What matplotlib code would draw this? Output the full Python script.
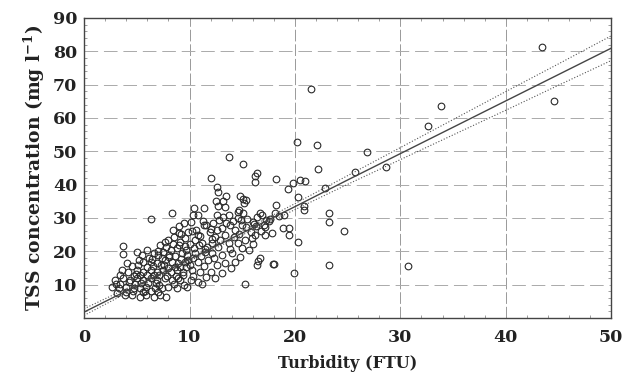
import matplotlib
matplotlib.use("Agg")
import matplotlib.pyplot as plt
from matplotlib.ticker import MultipleLocator

# turbidity (FTU) / TSS (mg l-1) pairs
turbidity = [
    43.4, 44.6, 33.9, 32.6, 21.5, 20.2, 22.1, 26.8, 28.6, 25.7, 22.2, 20.5, 21.0, 22.9,
    19.8, 19.3, 20.3, 18.2, 18.2, 20.9, 20.9, 23.2, 23.2, 24.7, 18.9, 19.4, 19.4, 20.3,
    17.6, 18.0, 19.9, 23.2, 30.7, 15.3, 11.2, 3.7, 3.7, 6.3, 8.3, 13.7, 15.1, 16.4,
    16.2, 16.2, 12.0, 12.6, 12.7, 13.5, 12.5, 13.2, 14.8, 15.1, 15.4, 15.2, 10.4, 11.4,
    12.7, 14.7, 9.5, 10.1, 16.7, 16.9, 17.3, 17.5, 16.7, 16.4, 16.5, 17.9,
    13.4, 15.1, 18.1, 10.8, 12.6, 13.2, 13.7, 14.6, 14.6, 16.4, 17.1, 16.3, 9.9, 11.6,
    12.6, 13.1, 12.4, 13.4, 14.3, 15.0, 15.4, 15.9, 16.2, 17.2, 17.2, 10.5, 11.2, 12.1,
    12.7, 13.7, 14.6, 15.3, 15.6, 9.7, 10.5, 11.5, 12.1, 13.1, 14.0, 14.8, 9.9, 10.8,
    11.8, 12.6, 13.4, 14.3, 10.2, 11.0, 12.0, 13.1, 13.9, 10.1, 10.8,
    8.0, 8.5, 9.1, 9.6, 6.6, 7.5, 7.0, 8.2, 8.8, 9.3, 5.6, 6.3, 6.9, 7.7, 8.3, 8.9, 9.6,
    3.6, 4.2, 5.0, 5.6, 6.3, 6.9, 7.5, 8.2, 8.8, 9.4, 2.9, 3.7, 4.4, 5.0, 5.6, 6.3, 6.9,
    7.7, 8.3, 9.1, 2.6, 3.3, 4.0, 4.7, 5.3, 5.9, 6.7, 7.4, 8.0, 8.8, 3.1, 3.9, 4.5, 5.3,
    5.9, 6.6, 7.2, 7.8,
    4.5, 5.2, 6.0, 7.2, 7.8, 8.6, 9.8, 10.4, 11.0, 11.9, 10.6, 9.2, 8.4, 9.4, 10.0, 11.4,
    12.3, 13.8, 14.2, 15.8, 15.0, 16.0, 4.8, 6.1, 7.1, 8.5, 9.5, 9.8, 3.0, 3.4, 4.0, 5.6,
    6.3, 7.0, 6.0, 7.3, 8.0, 8.7, 6.6, 5.3, 4.7, 7.9, 9.1, 10.3, 11.6, 12.4, 4.1, 5.5,
    6.2, 7.4, 8.1, 9.0, 10.0, 11.7, 12.9, 13.8, 14.9, 16.0, 11.3, 12.2, 9.0, 10.3, 17.8,
    18.5, 19.0,
    3.4, 4.3, 4.9, 5.4, 6.0, 6.5, 7.1, 7.6, 8.1, 8.6, 9.2, 9.7, 10.3, 10.9, 11.5, 12.1,
    4.6, 5.1, 5.8, 6.4, 7.0, 7.7, 8.4, 9.0, 9.6, 10.2, 10.8, 11.4, 12.0, 12.8, 13.5,
    14.1, 14.7, 15.5, 16.1, 16.8, 5.0, 6.8, 8.9, 11.1,
]
tss = [
    81.2, 65.2, 63.6, 57.7, 68.8, 52.7, 52.0, 49.8, 45.4, 43.9, 44.6, 41.4, 41.0, 39.0,
    40.4, 38.7, 36.4, 41.6, 33.9, 33.5, 32.3, 31.4, 28.7, 26.1, 26.9, 26.9, 24.8, 22.9,
    29.7, 16.1, 13.5, 16.0, 15.6, 10.1, 10.2, 21.7, 19.2, 29.7, 31.6, 48.4, 46.2, 43.4,
    42.6, 40.9, 41.9, 39.4, 37.9, 36.5, 35.1, 35.1, 36.6, 35.6, 35.3, 34.4, 33.1, 33.0,
    33.6, 32.4, 28.4, 28.9, 31.4, 30.9, 29.4, 29.0, 17.9, 15.9, 17.2, 16.2,
    33.4, 31.4, 31.4, 30.9, 30.9, 30.4, 30.9, 31.9, 29.9, 30.4, 27.9, 27.6, 25.9, 27.9,
    26.4, 26.9, 24.4, 24.9, 26.4, 27.9, 27.4, 23.9, 24.9, 24.9, 27.4, 23.4, 22.4, 22.4,
    21.4, 22.4, 22.4, 23.4, 20.4, 20.4, 19.4, 19.9, 19.4, 18.9, 19.4, 18.4, 17.4, 16.9,
    17.4, 15.9, 16.4, 16.9, 14.4, 13.9, 13.9, 13.4, 14.9, 11.4, 10.9,
    23.4, 24.2, 22.9, 23.9, 19.4, 19.9, 18.9, 20.4, 20.9, 19.4, 16.9, 16.9, 16.4, 17.4,
    16.9, 16.4, 16.9, 14.4, 13.9, 14.4, 13.9, 14.4, 13.9, 14.4, 13.9, 14.4, 13.9, 11.4,
    11.9, 11.4, 11.9, 11.4, 11.9, 11.4, 11.9, 11.4, 11.4, 9.4, 8.9, 9.4, 8.9, 8.9, 9.4,
    8.9, 8.9, 9.4, 8.9, 7.4, 6.9, 6.9, 6.4, 6.9, 6.4, 6.9, 6.4,
    15.5, 17.5, 20.5, 22.0, 21.2, 18.5, 18.8, 21.0, 24.5, 25.8, 26.5, 25.2, 26.5, 13.0,
    16.0, 15.5, 18.0, 20.8, 24.2, 25.8, 21.0, 22.2, 10.3, 10.5, 10.0, 10.3, 10.0, 9.2,
    10.3, 12.8, 7.9, 7.8, 8.0, 7.7, 15.2, 15.8, 15.0, 12.6, 12.8, 12.9, 12.6, 12.7, 15.3,
    12.5, 12.3, 12.0, 16.4, 19.0, 18.0, 18.0, 19.0, 21.8, 22.2, 21.2, 23.4, 27.9, 29.3,
    28.9, 29.0, 28.5, 27.5, 31.0, 25.6, 30.5, 31.0,
    10.2, 10.8, 13.2, 10.6, 13.0, 15.6, 12.9, 16.0, 18.2, 15.4, 17.8, 15.2, 18.1, 21.8,
    20.8, 23.6, 8.2, 15.8, 8.1, 17.8, 20.0, 22.8, 22.1, 25.4, 21.6, 26.0, 25.0, 28.0,
    26.8, 29.5, 28.4, 29.0, 25.3, 29.8, 28.2, 26.2, 19.8, 10.6, 12.0, 18.6,
]

# regression line and its confidence band
band_x = [0, 5, 10, 15, 20, 25, 30, 35, 40, 45, 50]
fit_y = [1.8, 9.7, 17.6, 25.5, 33.4, 41.4, 49.3, 57.2, 65.1, 73.0, 80.9]
band_hi = [2.8, 10.3, 18.1, 26.1, 34.3, 42.7, 51.1, 59.5, 67.9, 76.2, 84.6]
band_lo = [0.8, 9.1, 17.1, 24.9, 32.5, 40.1, 47.5, 54.9, 62.3, 69.8, 77.2]

plt.rcParams["mathtext.fontset"] = "dejavuserif"
font = {"family": "DejaVu Serif", "weight": "bold"}

fig = plt.figure(figsize=(6.23, 3.80), dpi=100)
ax = fig.add_axes([0.135, 0.163, 0.846, 0.79])

ax.plot(turbidity, tss, "o", ms=4.8, mfc="none", mec="#2a2a2a", mew=0.8, zorder=3)
ax.plot(band_x, fit_y, "-", color="#444444", lw=1.0, zorder=4)
ax.plot(band_x, band_hi, ":", color="#555555", lw=0.8, zorder=4)
ax.plot(band_x, band_lo, ":", color="#555555", lw=0.8, zorder=4)

for v in [10, 20, 30, 40]:
    ax.axvline(v, color="#999999", lw=0.7, dashes=(12, 3), zorder=1)
for v in [10, 20, 30, 40, 50, 60, 70, 80]:
    ax.axhline(v, color="#aaaaaa", lw=0.7, dashes=(14, 6), zorder=1)

ax.set_xlim(0, 50)
ax.set_ylim(0, 90)
ax.set_xticks([0, 10, 20, 30, 40, 50])
ax.set_yticks([10, 20, 30, 40, 50, 60, 70, 80, 90])
ax.xaxis.set_minor_locator(MultipleLocator(2))
ax.yaxis.set_minor_locator(MultipleLocator(2))
ax.tick_params(which="major", length=0, pad=8)
ax.tick_params(which="minor", direction="in", length=2, width=0.5,
               top=True, right=True, color="#777777")
for lab in ax.get_xticklabels() + ax.get_yticklabels():
    lab.set_fontfamily("DejaVu Serif")
    lab.set_fontweight("bold")
    lab.set_fontsize(12.5)
    lab.set_color("#222222")
ax.tick_params(axis="y", pad=5)

for s in ax.spines.values():
    s.set_color("#444444")
    s.set_linewidth(1.0)

ax.set_xlabel("Turbidity (FTU)", fontsize=11.5, color="#222222", labelpad=6, **font)
ax.set_ylabel(r"TSS concentration (mg l$^{\mathbf{-1}}$)", fontsize=13.5,
              color="#222222", labelpad=4, **font)

fig.savefig("out.png", dpi=100)
